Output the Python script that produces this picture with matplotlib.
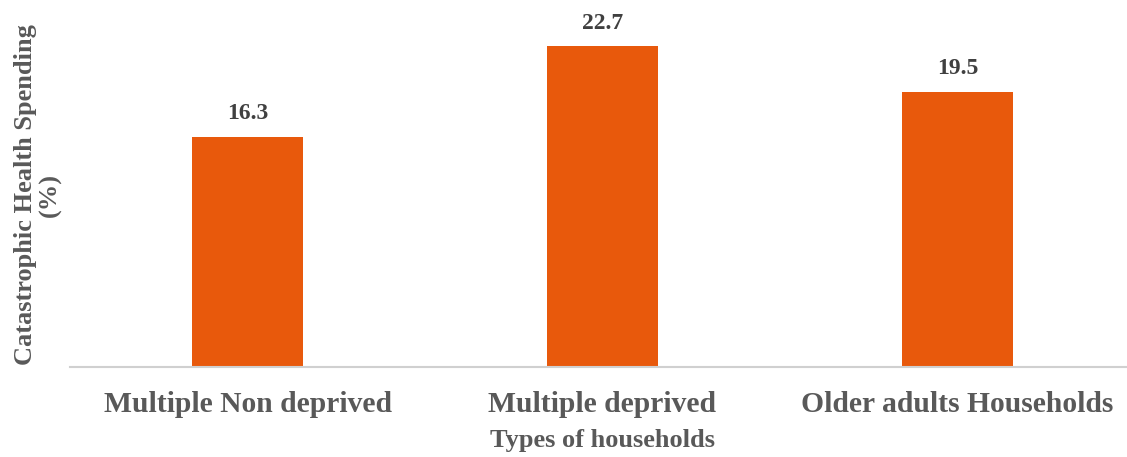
import matplotlib.pyplot as plt

categories = ["Multiple Non deprived", "Multiple deprived", "Older adults Households"]
values = [16.3, 22.7, 19.5]

BAR = "#E8590C"
GREY = "#595959"
DARK = "#404040"

plt.rcParams["font.family"] = ["Liberation Serif", "DejaVu Serif"]
plt.rcParams["font.weight"] = "bold"

fig = plt.figure(figsize=(11.27, 4.57), dpi=100, facecolor="white")
ax = fig.add_axes([70 / 1127, 90 / 457, 1065 / 1127, 353 / 457])

x = range(len(categories))
bars = ax.bar(x, values, width=0.313, color=BAR)
ax.set_xlim(-0.5, len(categories) - 0.5)
ax.set_ylim(0, 25)

for b, v in zip(bars, values):
    ax.annotate(f"{v:.1f}", (b.get_x() + b.get_width() / 2, v),
                xytext=(0, 9), textcoords="offset points",
                ha="center", va="bottom", fontsize=17, fontweight="bold", color=DARK)

ax.set_xticks(list(x))
ax.set_xticklabels(categories, fontsize=21.3, fontweight="bold", color=GREY)
ax.tick_params(axis="x", length=0, pad=17.5)
ax.set_yticks([])

for s in ("top", "right", "left"):
    ax.spines[s].set_visible(False)
ax.spines["bottom"].set_color("#d0d0d0")
ax.spines["bottom"].set_linewidth(1.5)

fig.text(602 / 1127, 1 - 441 / 457, "Types of households", ha="center", va="center",
         fontsize=19, fontweight="bold", color=GREY)
fig.text(38 / 1127, 1 - 195 / 457, "Catastrophic Health Spending\n(%)", ha="center", va="center",
         rotation=90, fontsize=19, fontweight="bold", color=GREY, linespacing=1.1)

fig.savefig("out.png", dpi=100, facecolor="white")
